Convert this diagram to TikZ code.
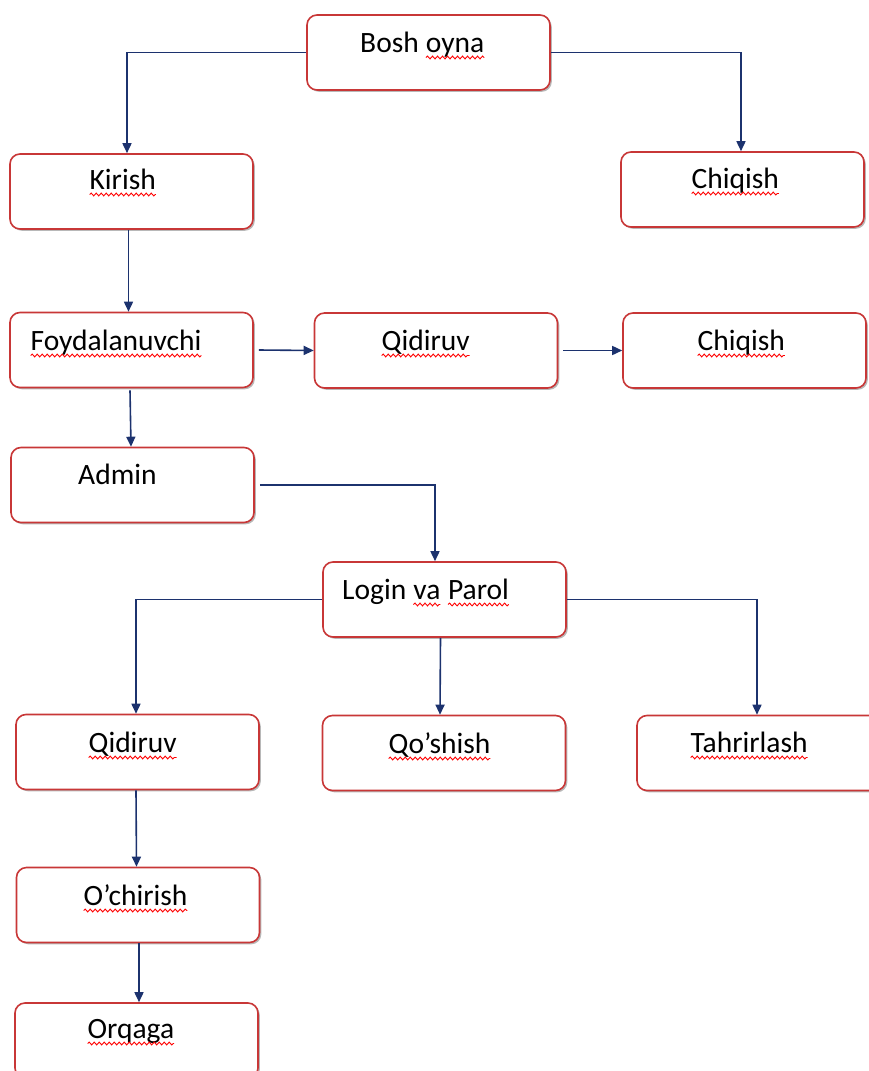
\documentclass[tikz,border=0pt]{standalone}
\usepackage{fontspec}
\setmainfont{Carlito}
\usetikzlibrary{arrows.meta,shadows,decorations.pathmorphing}
\definecolor{boxred}{RGB}{200,55,55}
\definecolor{conn}{RGB}{28,50,110}
\newcommand\wv[1]{\tikz[baseline=(w.base)]{\node[inner sep=0pt,outer sep=0pt](w){#1};\draw[red,line width=0.9pt,decorate,decoration={snake,amplitude=1.4pt,segment length=5pt}]([yshift=-5.5pt]w.base west)--([yshift=-5.5pt]w.base east);}}
\tikzset{
  boxnode/.style={draw=boxred,line width=1.6pt,rounded corners=10pt,fill=white,
    minimum width=243pt,minimum height=75pt,inner sep=0pt,
    general shadow={shadow xshift=1.8pt,shadow yshift=-1.8pt,fill=black,opacity=0.28}},
  lbl/.style={inner sep=0pt,anchor=base west,font=\fontsize{29.5}{35}\selectfont,text=black},
  connline/.style={draw=conn,line width=1.6pt},
  arr/.style={connline,-{Triangle[length=10pt,width=9pt]}}
}
\begin{document}
\begin{tikzpicture}[x=1pt,y=-1pt]
\useasboundingbox (0,0) rectangle (869,1071);
\clip (0,0) rectangle (869,1071);
% boxes
\node[boxnode] (bosh)   at (428.5,52.5) {};
\node[boxnode] (kirish) at (131.5,191.5) {};
\node[boxnode] (chiqa)  at (742.5,189.5) {};
\node[boxnode] (foyd)   at (131.5,350) {};
\node[boxnode] (qida)   at (436,350.5) {};
\node[boxnode] (chiqb)  at (744.5,350.5) {};
\node[boxnode] (admin)  at (132.5,485) {};
\node[boxnode] (login)  at (444.5,599.5) {};
\node[boxnode] (qidb)   at (137.5,752) {};
\node[boxnode] (qosh)   at (444,753) {};
\node[boxnode] (tahr)   at (758.5,753) {};
\node[boxnode] (ochir)  at (138,905) {};
\node[boxnode] (orqaga) at (136.5,1040.5) {};
% labels
\node[lbl] (tbosh)   at (360,52)   {Bosh \wv{oyna}};
\node[lbl] (tkirish) at (89,189)   {\wv{Kirish}};
\node[lbl] (tchiqa)  at (691,188)  {\wv{Chiqish}};
\node[lbl] (tfoyd)   at (30,350)   {\wv{Foydalanuvchi}};
\node[lbl] (tqida)   at (381,350)  {\wv{Qidiruv}};
\node[lbl] (tchiqb)  at (697,350)  {\wv{Chiqish}};
\node[lbl] (tadmin)  at (78,484)   {Admin};
\node[lbl] (tlogin)  at (342,599)  {Login \wv{va} \wv{Parol}};
\node[lbl] (tqidb)   at (88,752)   {\wv{Qidiruv}};
\node[lbl] (tqosh)   at (388,753)  {\wv{Qo’shish}};
\node[lbl] (ttahr)   at (690,752)  {\wv{Tahrirlash}};
\node[lbl] (tochir)  at (83,905)   {\wv{O’chirish}};
\node[lbl] (torqaga) at (87,1038)  {\wv{Orqaga}};
% connectors
\draw[arr] (bosh.west) -| ([xshift=-4.5pt]kirish.north);
\draw[arr] (bosh.east) -| ([xshift=-1.5pt]chiqa.north);
\draw[arr] ([xshift=-3pt]kirish.south) -- ([xshift=-3pt]foyd.north);
\draw[arr] ([xshift=5pt]foyd.east) -- (qida.west);
\draw[arr] ([xshift=5pt]qida.east) -- (chiqb.west);
\draw[arr] ([xshift=-1.5pt,yshift=-2pt]foyd.south) -- ([xshift=-1.5pt]admin.north);
\draw[arr] ([xshift=5pt]admin.east) -| ([xshift=-9.5pt]login.north);
\draw[arr] (login.west) -| ([xshift=-1.5pt]qidb.north);
\draw[arr] ([xshift=-4pt]login.south) -- ([xshift=-4pt]qosh.north);
\draw[arr] (login.east) -| ([xshift=-1.5pt]tahr.north);
\draw[arr] ([xshift=-1.5pt]qidb.south) -- ([xshift=-1.5pt]ochir.north);
\draw[arr] ([xshift=1pt]ochir.south) -- ([xshift=2.5pt]orqaga.north);
\end{tikzpicture}
\end{document}
